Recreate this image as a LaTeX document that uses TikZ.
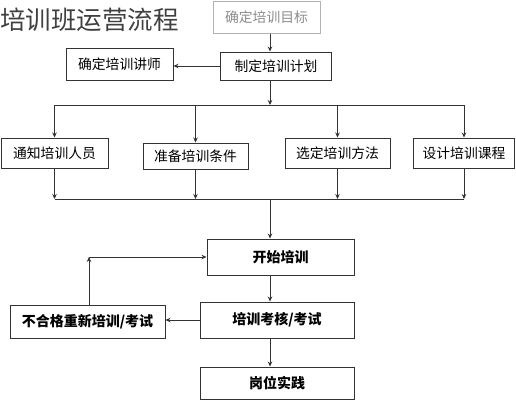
\documentclass[tikz,border=0pt]{standalone}
\usepackage{fontspec}
\newfontfamily\cjk{Noto Sans CJK SC}
\usetikzlibrary{arrows.meta}

\tikzset{
  box/.style = {draw = black!80, line width = 1pt, inner sep = 0pt,
                font = \cjk\fontsize{13.8}{14}\selectfont},
  boxb/.style = {box, font = \cjk\bfseries\fontsize{14}{14}\selectfont},
  flow/.style = {-{Stealth[length = 5pt, width = 4.5pt]}, line width = 0.7pt, black!80}
}

\begin{document}
\begin{tikzpicture}[x = 1pt, y = -1pt]
    \useasboundingbox (0,0) rectangle (516,400);

    \node [anchor = west, inner sep = 0pt, text = black!75,
           font = \cjk\fontsize{25.5}{26}\selectfont] (title) at (0,20) {培训班运营流程};

    \node [box, draw = black!30, text = black!45, minimum width = 107pt, minimum height = 32pt] (mubiao) at (266.5,17) {确定培训目标};
    \node [box, minimum width = 111pt, minimum height = 28pt] (jihua) at (276,66) {制定培训计划};
    \node [box, minimum width = 107pt, minimum height = 32pt] (jiangshi) at (119.5,64) {确定培训讲师};

    \node [box, minimum width = 107pt, minimum height = 30pt] (renyuan) at (54.5,153) {通知培训人员};
    \node [box, minimum width = 105pt, minimum height = 26pt] (tiaojian) at (195.5,156) {准备培训条件};
    \node [box, minimum width = 105pt, minimum height = 30pt] (fangfa) at (337.5,153) {选定培训方法};
    \node [box, minimum width = 101pt, minimum height = 30pt] (kecheng) at (464,153) {设计培训课程};

    \node [boxb, minimum width = 147pt, minimum height = 36pt] (kaishi) at (280.5,257) {开始培训};
    \node [boxb, minimum width = 154pt, minimum height = 36pt] (kaohe) at (277,320) {培训考核/考试};
    \node [boxb, minimum width = 155pt, minimum height = 33pt] (chongxin) at (87.5,321.5) {不合格重新培训/考试};
    \node [boxb, minimum width = 154pt, minimum height = 32pt] (shijian) at (277,383) {岗位实践};

    % buses
    \coordinate (bus1) at (270,105);
    \coordinate (bus2) at (270,199);
    \coordinate (back) at (89,257);

    \draw [flow] (mubiao.south -| bus1) -- (jihua.north -| bus1);
    \draw [flow] (jihua.west) -- (jihua.west -| jiangshi.east);
    \draw [flow] (jihua.south -| bus1) -- (bus1);

    \draw [line width = 0.7pt, black!80] (renyuan.north |- bus1) -- (kecheng.north |- bus1);
    \foreach \n in {renyuan,tiaojian,fangfa,kecheng}
    \draw [flow] (\n.north |- bus1) -- (\n.north);
    \foreach \n in {renyuan,tiaojian,fangfa,kecheng}
    \draw [flow] (\n.south) -- (\n.south |- bus2);
    \draw [line width = 0.7pt, black!80] (renyuan.south |- bus2) -- (kecheng.south |- bus2);

    \draw [flow] (bus2) -- (kaishi.north -| bus2);
    \draw [flow] (kaishi.south -| bus2) -- (kaohe.north -| bus2);
    \draw [flow] (kaohe.west) -- (kaohe.west -| chongxin.east);
    \draw [flow] (kaohe.south -| bus2) -- (shijian.north -| bus2);

    % back to training
    \draw [flow] (chongxin.north -| back) -- (back);
    \draw [flow] (back) -- (back -| kaishi.west);
\end{tikzpicture}
\end{document}
